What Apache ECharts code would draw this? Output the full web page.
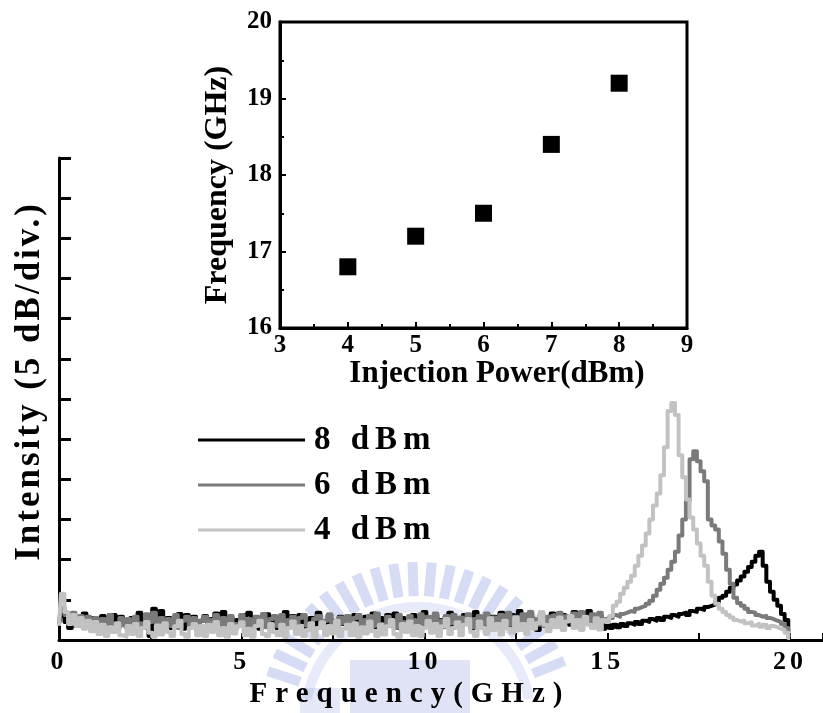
<!DOCTYPE html>
<html>
<head>
<meta charset="utf-8">
<title>Spectrum</title>
<script src="https://cdn.jsdelivr.net/npm/echarts@6/dist/echarts.min.js"></script>
<style>
html,body{margin:0;padding:0;background:#fff;}
#chart{width:823px;height:713px;}
</style>
</head>
<body>
<div id="chart"></div>
<script>
// ---- data ----
const freqGHz = [
0.0,0.1,0.2,0.3,0.4,0.5,0.6,0.7,0.8,0.9,
1.0,1.1,1.2,1.3,1.4,1.5,1.6,1.7,1.8,1.9,
2.0,2.1,2.2,2.3,2.4,2.5,2.6,2.7,2.8,2.9,
3.0,3.1,3.2,3.3,3.4,3.5,3.6,3.7,3.8,3.9,
4.0,4.1,4.2,4.3,4.4,4.5,4.6,4.7,4.8,4.9,
5.0,5.1,5.2,5.3,5.4,5.5,5.6,5.7,5.8,5.9,
6.0,6.1,6.2,6.3,6.4,6.5,6.6,6.7,6.8,6.9,
7.0,7.1,7.2,7.3,7.4,7.5,7.6,7.7,7.8,7.9,
8.0,8.1,8.2,8.3,8.4,8.5,8.6,8.7,8.8,8.9,
9.0,9.1,9.2,9.3,9.4,9.5,9.6,9.7,9.8,9.9,
10.0,10.1,10.2,10.3,10.4,10.5,10.6,10.7,10.8,10.9,
11.0,11.1,11.2,11.3,11.4,11.5,11.6,11.7,11.8,11.9,
12.0,12.1,12.2,12.3,12.4,12.5,12.6,12.7,12.8,12.9,
13.0,13.1,13.2,13.3,13.4,13.5,13.6,13.7,13.8,13.9,
14.0,14.1,14.2,14.3,14.4,14.5,14.6,14.7,14.8,14.9,
15.0,15.1,15.2,15.3,15.4,15.5,15.6,15.7,15.8,15.9,
16.0,16.1,16.2,16.3,16.4,16.5,16.6,16.7,16.8,16.9,
17.0,17.1,17.2,17.3,17.4,17.5,17.6,17.7,17.8,17.9,
18.0,18.1,18.2,18.3,18.4,18.5,18.6,18.7,18.8,18.9,
19.0,19.1,19.2,19.3,19.4,19.5,19.6,19.7,19.8,19.9,
20.0
];
// intensity in divisions (5 dB/div)
const p8dBm = [
0.40,0.62,0.45,0.30,0.58,0.35,0.52,0.66,0.32,0.55,
0.42,0.25,0.60,0.17,0.48,0.62,0.30,0.58,0.45,0.28,
0.55,0.35,0.68,0.30,0.50,0.10,0.78,0.45,0.72,0.35,
0.55,0.30,0.50,0.65,0.28,0.62,0.40,0.58,0.25,0.48,
0.60,0.30,0.52,0.66,0.35,0.70,0.32,0.55,0.25,0.50,
0.38,0.62,0.68,0.30,0.55,0.28,0.50,0.64,0.35,0.58,
0.30,0.52,0.70,0.35,0.60,0.28,0.62,0.45,0.30,0.55,
0.38,0.68,0.45,0.30,0.62,0.48,0.28,0.58,0.40,0.55,
0.30,0.62,0.45,0.25,0.58,0.40,0.66,0.32,0.55,0.45,
0.62,0.35,0.66,0.30,0.55,0.45,0.28,0.62,0.38,0.58,
0.70,0.42,0.30,0.62,0.50,0.35,0.58,0.68,0.32,0.55,
0.38,0.62,0.45,0.30,0.70,0.50,0.35,0.62,0.42,0.58,
0.35,0.68,0.48,0.30,0.62,0.45,0.72,0.50,0.35,0.58,
0.45,0.25,0.62,0.50,0.35,0.66,0.55,0.40,0.62,0.48,
0.38,0.70,0.52,0.40,0.62,0.72,0.48,0.35,0.58,0.28,
0.40,0.30,0.38,0.32,0.40,0.35,0.42,0.38,0.45,0.40,
0.48,0.45,0.52,0.48,0.55,0.50,0.58,0.55,0.62,0.58,
0.65,0.68,0.62,0.72,0.70,0.78,0.75,0.82,0.85,0.88,
0.95,1.05,1.10,1.20,1.30,1.38,1.48,1.58,1.70,1.82,
1.95,2.10,2.20,1.85,1.45,1.20,1.00,0.85,0.65,0.50,
0.20
];
const p6dBm = [
0.45,0.80,0.62,0.50,0.68,0.42,0.60,0.38,0.58,0.35,
0.55,0.30,0.52,0.35,0.62,0.40,0.28,0.55,0.36,0.52,
0.30,0.58,0.42,0.32,0.64,0.45,0.68,0.38,0.55,0.32,
0.52,0.35,0.62,0.30,0.48,0.58,0.32,0.55,0.28,0.48,
0.58,0.30,0.50,0.62,0.35,0.55,0.28,0.60,0.40,0.34,
0.62,0.36,0.52,0.30,0.58,0.42,0.65,0.32,0.52,0.60,
0.35,0.62,0.30,0.50,0.58,0.32,0.55,0.62,0.36,0.30,
0.52,0.60,0.32,0.48,0.64,0.36,0.30,0.56,0.42,0.60,
0.32,0.55,0.62,0.30,0.50,0.60,0.35,0.66,0.40,0.32,
0.58,0.38,0.30,0.62,0.45,0.35,0.60,0.50,0.32,0.64,
0.40,0.58,0.35,0.66,0.48,0.32,0.60,0.42,0.62,0.35,
0.56,0.40,0.64,0.32,0.52,0.60,0.38,0.66,0.42,0.56,
0.36,0.62,0.45,0.68,0.38,0.58,0.32,0.64,0.45,0.70,
0.52,0.38,0.66,0.35,0.58,0.62,0.42,0.68,0.40,0.60,
0.48,0.66,0.40,0.70,0.55,0.42,0.64,0.48,0.68,0.52,
0.55,0.55,0.62,0.58,0.65,0.68,0.72,0.70,0.78,0.82,
0.85,0.90,0.98,1.10,1.25,1.40,1.55,1.75,1.95,2.20,
2.60,3.00,3.45,4.50,4.70,4.45,4.20,3.95,3.00,2.85,
2.75,2.45,2.15,1.75,1.40,1.05,0.92,0.85,0.78,0.70,
0.68,0.62,0.58,0.60,0.55,0.52,0.48,0.45,0.40,0.30,
0.08
];
const p4dBm = [
0.35,1.15,0.70,0.40,0.62,0.35,0.55,0.28,0.48,0.22,
0.45,0.15,0.38,0.10,0.32,0.20,0.42,0.12,0.08,0.35,
0.15,0.40,0.10,0.30,0.45,0.18,0.08,0.36,0.14,0.42,
0.20,0.10,0.34,0.48,0.15,0.08,0.30,0.40,0.12,0.35,
0.10,0.38,0.20,0.45,0.12,0.30,0.08,0.40,0.16,0.34,
0.44,0.12,0.28,0.08,0.35,0.48,0.15,0.10,0.40,0.20,
0.12,0.38,0.08,0.30,0.46,0.15,0.34,0.10,0.25,0.42,
0.08,0.30,0.44,0.12,0.35,0.16,0.48,0.10,0.28,0.38,
0.12,0.42,0.08,0.32,0.16,0.46,0.22,0.10,0.38,0.14,
0.34,0.50,0.15,0.08,0.40,0.20,0.46,0.12,0.35,0.10,
0.30,0.48,0.18,0.40,0.10,0.34,0.52,0.15,0.30,0.44,
0.12,0.38,0.52,0.20,0.10,0.46,0.30,0.15,0.54,0.25,
0.40,0.14,0.48,0.28,0.18,0.56,0.25,0.40,0.15,0.50,
0.28,0.42,0.70,0.38,0.22,0.50,0.32,0.56,0.25,0.46,
0.60,0.30,0.50,0.25,0.58,0.38,0.30,0.54,0.26,0.50,
0.45,0.60,0.85,0.95,1.15,1.30,1.45,1.60,1.85,2.10,
2.35,2.65,3.00,3.35,3.65,4.10,4.80,5.70,5.90,5.60,
4.60,4.05,3.50,3.05,2.75,2.40,2.10,1.85,1.45,1.10,
0.90,0.78,0.70,0.62,0.56,0.50,0.46,0.48,0.42,0.44,
0.36,0.40,0.33,0.38,0.30,0.35,0.32,0.28,0.25,0.18,
0.05
];
const seriesNames = ['8 dBm', '6 dBm', '4 dBm'];
const xTicksMain = [0, 5, 10, 15, 20];

// inset
const injectionPower = [4, 5, 6, 7, 8];
const lockedFreq = [16.8, 17.2, 17.5, 18.4, 19.2];

// ---- letter spacing for the stretched labels (keyed by font size) ----
(function () {
  const spacing = { '26': '4px', '29': '8px', '33': '6px', '35': '3px' };
  const proto = CanvasRenderingContext2D.prototype;
  const orig = proto.fillText;
  proto.fillText = function (t, x, y, mw) {
    const m = /(\d+(?:\.\d+)?)px/.exec(this.font || '');
    const sp = m && spacing[m[1]];
    const has = ('letterSpacing' in this);
    const old = has ? this.letterSpacing : null;
    if (has) this.letterSpacing = sp || '0px';
    const r = mw === undefined ? orig.call(this, t, x, y) : orig.call(this, t, x, y, mw);
    if (has) this.letterSpacing = old;
    return r;
  };
})();

const FONT = '"Liberation Serif", "Times New Roman", Times, serif';
const colors = ['#000000', '#7a7a7a', '#c2c2c2'];

// ---- faint background logo (scan watermark) ----
const wmFill = 'rgba(120,140,215,0.30)';
const wm = [];
(function () {
  const cx = 418, cy = 720, rIn = 124, rOut = 158;
  for (let a = 162; a >= 18; a -= 7) {
    const t = a * Math.PI / 180;
    wm.push({
      type: 'rect', silent: true, z: -10,
      x: cx + rIn * Math.cos(t), y: cy - rIn * Math.sin(t),
      rotation: t - Math.PI / 2,
      shape: { x: -5, y: -(rOut - rIn), width: 10, height: rOut - rIn },
      style: { fill: wmFill }
    });
  }
  wm.push({ type: 'arc', silent: true, z: -10,
    shape: { cx: cx, cy: cy, r: 113, startAngle: Math.PI * 1.06, endAngle: Math.PI * 1.94 },
    style: { stroke: 'rgba(120,140,215,0.18)', lineWidth: 10, fill: 'none' } });
  wm.push({ type: 'rect', silent: true, z: -10, shape: { x: 350, y: 660, width: 120, height: 53 }, style: { fill: 'rgba(120,140,215,0.24)' } });
  wm.push({ type: 'rect', silent: true, z: -10, shape: { x: 300, y: 688, width: 40, height: 25 }, style: { fill: 'rgba(120,140,215,0.20)' } });
})();

const chart = echarts.init(document.getElementById('chart'), null, { renderer: 'canvas' });

const lineSeries = [p8dBm, p6dBm, p4dBm].map((vals, k) => ({
  name: seriesNames[k],
  type: 'line',
  xAxisIndex: 0, yAxisIndex: 0,
  data: freqGHz.map((f, i) => [f, vals[i]]),
  step: 'middle',
  showSymbol: false, symbol: 'none',
  lineStyle: { color: colors[k], width: 4, join: 'round' },
  itemStyle: { color: colors[k] },
  z: 2 + k,
  animation: false
}));

const option = {
  animation: false,
  backgroundColor: '#fff',
  textStyle: { fontFamily: FONT, fontWeight: 'bold', color: '#000' },
  graphic: { elements: wm },
  grid: [
    { left: 59, right: 0, top: 158, bottom: 73, outerBoundsMode: 'none', containLabel: false },
    { left: 280, top: 22, width: 407, height: 306, show: true, borderColor: '#000', borderWidth: 3,
      backgroundColor: 'transparent', outerBoundsMode: 'none', containLabel: false }
  ],
  legend: {
    orient: 'vertical', left: 193, top: 417,
    itemWidth: 107, itemHeight: 3, icon: 'rect', itemGap: 9,
    data: seriesNames,
    selectedMode: false,
    textStyle: { fontFamily: FONT, fontWeight: 'bold', fontSize: 33, lineHeight: 36, color: '#000', padding: [0, 0, 0, 4] }
  },
  xAxis: [
    {
      gridIndex: 0, type: 'value', min: 0, max: 20.9, interval: 2.5,
      name: 'Frequency(GHz)', nameLocation: 'middle', nameGap: 30,
      nameTextStyle: { fontFamily: FONT, fontWeight: 'bold', fontSize: 29, color: '#000', padding: [0, 62, 0, 0] },
      axisLine: { show: true, lineStyle: { color: '#000', width: 3 } },
      axisTick: { show: true, inside: true, length: 7, lineStyle: { color: '#000', width: 2 } },
      axisLabel: {
        show: true, margin: 9, fontFamily: FONT, fontWeight: 'bold', fontSize: 26, color: '#000',
        formatter: v => (xTicksMain.indexOf(v) >= 0 ? String(v) : '')
      },
      splitLine: { show: false }
    },
    {
      gridIndex: 1, type: 'value', min: 3, max: 9, interval: 1,
      name: 'Injection Power(dBm)', nameLocation: 'middle', nameGap: 26,
      nameTextStyle: { fontFamily: FONT, fontWeight: 'bold', fontSize: 31, color: '#000', padding: [0, 0, 0, 27] },
      axisLine: { show: true, lineStyle: { color: '#000', width: 3 } },
      axisTick: { show: true, inside: true, length: 6, lineStyle: { color: '#000', width: 2 } },
      minorTick: { show: true, splitNumber: 2, length: 4, lineStyle: { color: '#000', width: 2 } },
      axisLabel: { margin: 5, fontFamily: FONT, fontWeight: 'bold', fontSize: 25, color: '#000' },
      splitLine: { show: false }, minorSplitLine: { show: false }
    }
  ],
  yAxis: [
    {
      gridIndex: 0, type: 'value', min: 0, max: 12, interval: 1,
      name: 'Intensity (5 dB/div.)', nameLocation: 'middle', nameGap: 12, nameRotate: 90,
      nameTextStyle: { fontFamily: FONT, fontWeight: 'bold', fontSize: 35, color: '#000', padding: [0, 0, 0, 36] },
      axisLine: { show: true, lineStyle: { color: '#000', width: 3 } },
      axisTick: { show: true, inside: true, length: 12, lineStyle: { color: '#000', width: 3 } },
      axisLabel: { show: false },
      splitLine: { show: false }
    },
    {
      gridIndex: 1, type: 'value', min: 16, max: 20, interval: 1,
      name: 'Frequency (GHz)', nameLocation: 'middle', nameGap: 46, nameRotate: 90,
      nameTextStyle: { fontFamily: FONT, fontWeight: 'bold', fontSize: 32, color: '#000', padding: [0, 20, 0, 0] },
      axisLine: { show: true, lineStyle: { color: '#000', width: 3 } },
      axisTick: { show: true, inside: true, length: 6, lineStyle: { color: '#000', width: 2 } },
      minorTick: { show: true, splitNumber: 2, length: 4, lineStyle: { color: '#000', width: 2 } },
      axisLabel: { margin: 8, fontFamily: FONT, fontWeight: 'bold', fontSize: 25, color: '#000' },
      splitLine: { show: false }, minorSplitLine: { show: false }
    }
  ],
  series: lineSeries.concat([
    {
      name: 'Locked frequency', type: 'scatter', xAxisIndex: 1, yAxisIndex: 1,
      data: injectionPower.map((p, i) => [p, lockedFreq[i]]),
      symbol: 'rect', symbolSize: 17,
      itemStyle: { color: '#000', opacity: 1 },
      z: 10, animation: false
    }
  ])
};
chart.setOption(option);
</script>
</body>
</html>
